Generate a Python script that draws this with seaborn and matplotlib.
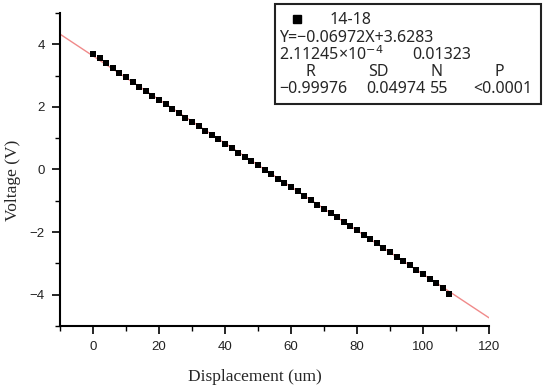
import matplotlib
matplotlib.use("Agg")
import matplotlib.pyplot as plt
import seaborn as sns
import numpy as np
import pandas as pd
from matplotlib.lines import Line2D
from matplotlib.patches import Rectangle

# ---- data ----
displacement = [0, 2, 4, 6, 8, 10, 12, 14, 16, 18, 20, 22, 24, 26, 28, 30, 32, 34, 36, 38,
                40, 42, 44, 46, 48, 50, 52, 54, 56, 58, 60, 62, 64, 66, 68, 70, 72, 74, 76, 78,
                80, 82, 84, 86, 88, 90, 92, 94, 96, 98, 100, 102, 104, 106, 108]
voltage = [3.70, 3.55, 3.40, 3.24, 3.09, 2.94, 2.79, 2.65, 2.50, 2.36, 2.22, 2.08, 1.94, 1.80,
           1.66, 1.52, 1.38, 1.24, 1.10, 0.96, 0.82, 0.68, 0.54, 0.40, 0.26, 0.13, -0.01, -0.15,
           -0.29, -0.43, -0.56, -0.70, -0.84, -0.98, -1.12, -1.25, -1.39, -1.53, -1.67, -1.80,
           -1.94, -2.08, -2.22, -2.36, -2.50, -2.64, -2.78, -2.92, -3.06, -3.20, -3.34, -3.49,
           -3.64, -3.80, -3.98]
fit_slope = -0.06972
fit_intercept = 3.6283
series_name = "14-18"
x_ticks = [0, 20, 40, 60, 80, 100, 120]
y_ticks = [-4, -2, 0, 2, 4]

df = pd.DataFrame({"x": displacement, "y": voltage})

sns.set_theme(style="ticks")
W, H = 550, 389
fig = plt.figure(figsize=(W / 100, H / 100), dpi=100)
ax = fig.add_axes([60 / W, 1 - 326 / H, (489 - 60) / W, (326 - 13) / H])

xlim = (-10, 120)
ylim = (-5, 5)
fit_x = np.array(xlim, dtype=float)
fit_df = pd.DataFrame({"x": fit_x, "y": fit_intercept + fit_slope * fit_x})
sns.lineplot(data=fit_df, x="x", y="y", ax=ax, color="#f08a8a", linewidth=1.0, zorder=1)
sns.scatterplot(data=df, x="x", y="y", ax=ax, marker="s", s=22, color="black",
                edgecolor="black", linewidth=0, zorder=3)

ax.set_xlim(*xlim)
ax.set_ylim(*ylim)
ax.set_xticks(x_ticks)
ax.set_yticks(y_ticks)
ax.set_xticks(np.arange(-10, 121, 10), minor=True)
ax.set_yticks(np.arange(-5, 6, 1), minor=True)
ax.set_xticklabels([str(v) for v in x_ticks], family="Liberation Sans", fontsize=9.5)
ax.set_yticklabels([str(v).replace("-", "\u2212") for v in y_ticks], family="Liberation Sans", fontsize=9.5)
ax.tick_params(which="major", length=6, width=1.2, color="black", direction="out", pad=5,
               labelcolor="#222222")
ax.tick_params(which="minor", length=3.5, width=1.0, color="black", direction="out")
for s in ["top", "right"]:
    ax.spines[s].set_visible(False)
for s in ["left", "bottom"]:
    ax.spines[s].set_linewidth(1.5)
    ax.spines[s].set_color("black")

ax.set_xlabel("")
ax.set_ylabel("")
fig.text(255 / W, 1 - 377 / H, "Displacement (um)", family="Liberation Serif",
         fontsize=12.5, ha="center", va="center")
fig.text(13 / W, 1 - 180 / H, "Voltage (V)", family="Liberation Serif",
         fontsize=12.5, ha="center", va="center", rotation=90)

# ---- legend / stats box ----
box = Rectangle((275 / W, 1 - 104 / H), (541 - 275) / W, (104 - 4) / H,
                transform=fig.transFigure, fill=True, facecolor="white",
                edgecolor="#222222", linewidth=1.5, zorder=5)
fig.patches.append(box)
fig.lines.append(Line2D([297 / W], [1 - 19 / H], transform=fig.transFigure,
                        marker="s", markersize=6, color="black", linestyle="none", zorder=6))

fam = ["Noto Sans", "DejaVu Sans"]
fs = 11.5
def t(px, py, s, ha="left"):
    fig.text(px / W, 1 - py / H, s, family=fam, fontsize=fs, ha=ha, va="center", zorder=7)

t(330, 20, series_name)
t(279, 38, "Y=\u2212%.5fX+%.4f" % (abs(fit_slope), fit_intercept))
t(279, 55, "2.11245\u00d710$^{\u22124}$")
t(412, 55, "0.01323")
t(310, 72, "R", ha="center")
t(378, 72, "SD", ha="center")
t(436, 72, "N", ha="center")
t(499, 72, "P", ha="center")
t(279, 89, "\u22120.99976")
t(366, 89, "0.04974")
t(430, 89, "55")
t(473, 89, "<0.0001")

fig.savefig("out.png", dpi=100)
